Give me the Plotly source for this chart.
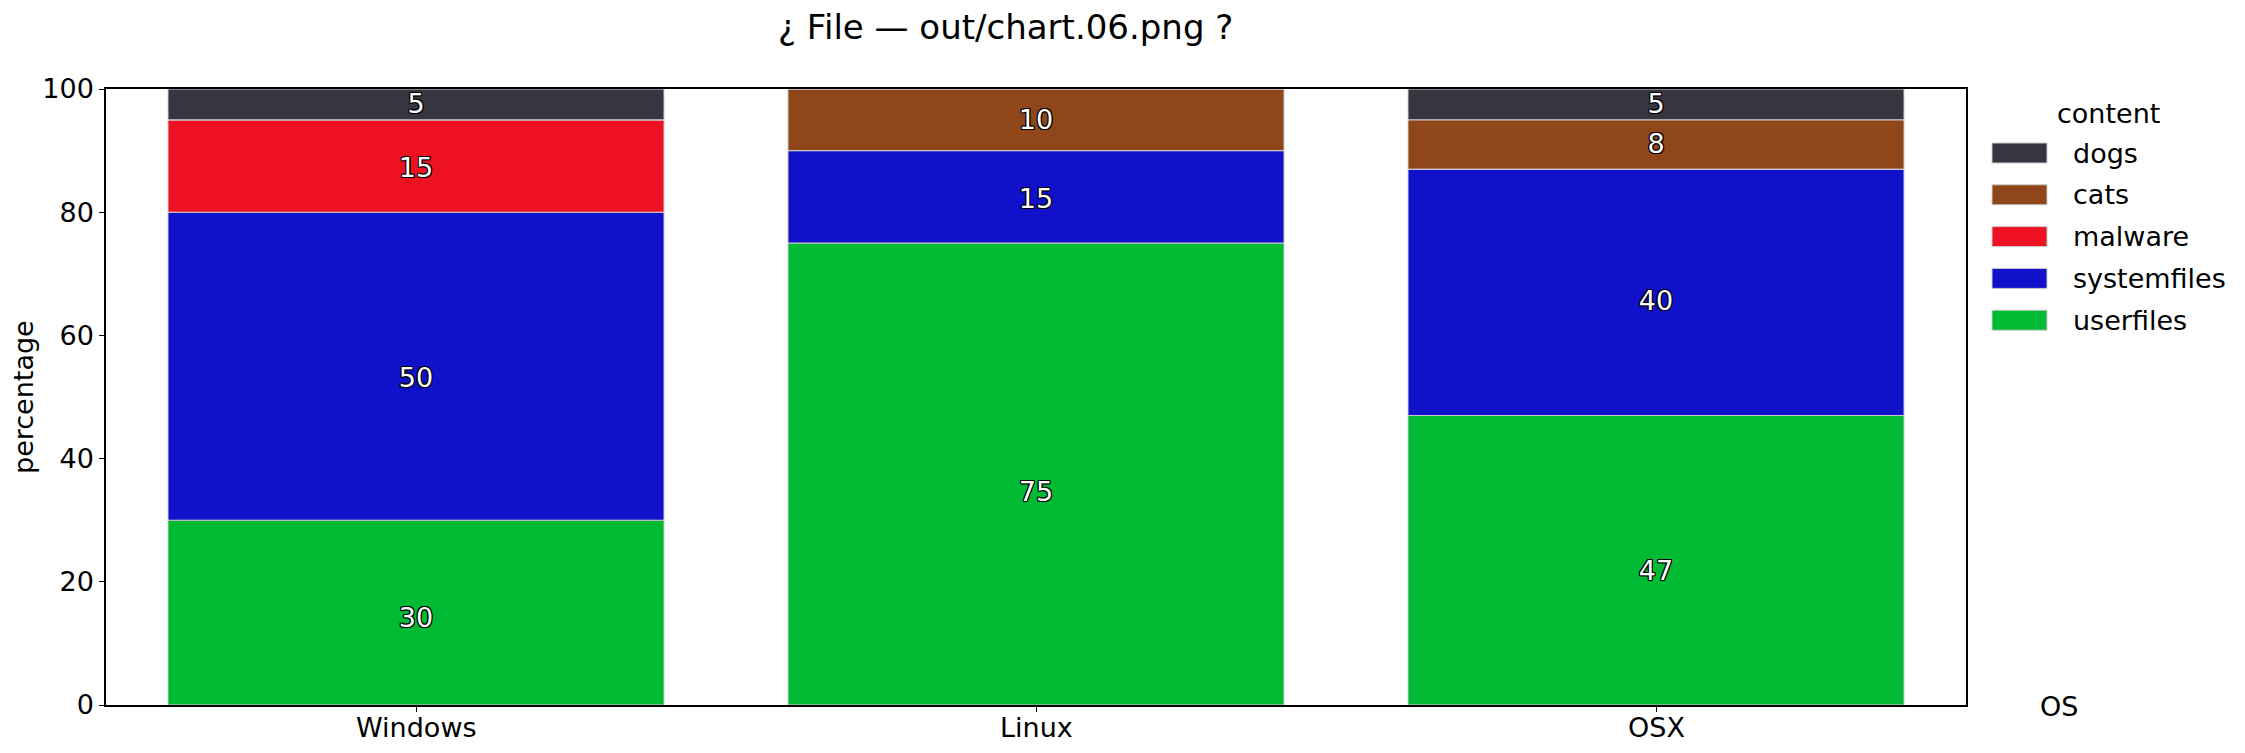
import plotly.graph_objects as go

categories = ["Windows", "Linux", "OSX"]
series_names = ["userfiles", "systemfiles", "malware", "cats", "dogs"]
userfiles = [30, 75, 47]
systemfiles = [50, 15, 40]
malware = [15, 0, 0]
cats = [0, 10, 8]
dogs = [5, 0, 5]
series_values = [userfiles, systemfiles, malware, cats, dogs]
colors = ["#00BA33", "#1111CC", "#EE1122", "#8F4618", "#37353F"]
y_ticks = [0, 20, 40, 60, 80, 100]

FONT = "DejaVu Sans"
W, H = 2245, 753
L, R, T, B = 106, 279, 89, 48
PW, PH = W - L - R, H - T - B

def px(x):
    return (x - L) / PW

def py(y):
    return (H - B - y) / PH

fig = go.Figure()
bases = [0] * len(categories)
label_x, label_y, label_t = [], [], []
for name, vals, col in zip(series_names, series_values, colors):
    fig.add_trace(go.Bar(
        x=categories, y=vals, base=bases[:], name=name,
        marker=dict(color=col, line=dict(color="#CCCCCC", width=1)),
        showlegend=False, hoverinfo="name+y",
    ))
    for i, v in enumerate(vals):
        if v > 0:
            label_x.append(categories[i])
            label_y.append(bases[i] + v * 0.456)
            label_t.append(str(v))
    bases = [b + v for b, v in zip(bases, vals)]

fig.add_trace(go.Scatter(
    x=label_x, y=label_y, text=label_t, mode="text",
    textposition="middle center",
    textfont=dict(family=FONT, size=27, color="white",
                  shadow="-1px -1px 0 #000, 1px -1px 0 #000, -1px 1px 0 #000, 1px 1px 0 #000, 0 1px 0 #000, 0 -1px 0 #000, 1px 0 0 #000, -1px 0 0 #000"),
    showlegend=False, hoverinfo="skip",
))

annotations = [
    dict(text="¿ File — out/chart.06.png ?", x=px(1005), y=py(27), xref="paper", yref="paper",
         xanchor="center", yanchor="middle", showarrow=False,
         font=dict(family=FONT, size=34, color="black")),
    dict(text="percentage", x=px(23), y=0.5, xref="paper", yref="paper", textangle=-90,
         xanchor="center", yanchor="middle", showarrow=False,
         font=dict(family=FONT, size=27, color="black")),
    dict(text="OS", x=px(2059), y=py(706), xref="paper", yref="paper",
         xanchor="center", yanchor="middle", showarrow=False,
         font=dict(family=FONT, size=27, color="black")),
    dict(text="content", x=px(2108), y=py(113), xref="paper", yref="paper",
         xanchor="center", yanchor="middle", showarrow=False,
         font=dict(family=FONT, size=27, color="black")),
]
for c in categories:
    annotations.append(dict(text=c, x=c, y=py(727), xref="x", yref="paper",
                            xanchor="center", yanchor="middle", showarrow=False,
                            font=dict(family=FONT, size=27, color="black")))
shapes = []
legend_order = list(zip(series_names, colors))[::-1]
for k, (name, col) in enumerate(legend_order):
    cy = 153 + k * 41.8
    shapes.append(dict(type="rect", xref="paper", yref="paper",
                       x0=px(1992), x1=px(2047), y0=py(cy - 10), y1=py(cy + 10),
                       fillcolor=col, line=dict(color="#CCCCCC", width=1)))
    annotations.append(dict(text=name, x=px(2071), y=py(cy), xref="paper", yref="paper",
                            xanchor="left", yanchor="middle", showarrow=False,
                            font=dict(family=FONT, size=27, color="black")))

fig.update_layout(
    width=W, height=H,
    margin=dict(l=L, r=R, t=T, b=B, autoexpand=False),
    barmode="overlay", bargap=0.2,
    plot_bgcolor="white", paper_bgcolor="white",
    font=dict(family=FONT, size=27, color="black"),
    annotations=annotations, shapes=shapes,
    xaxis=dict(range=[-0.5, 2.5], showline=True, linecolor="black", linewidth=1.5, mirror=True,
               ticks="outside", ticklen=5, tickcolor="black", showgrid=False,
               showticklabels=False),
    yaxis=dict(range=[0, 100], tickvals=y_ticks, showline=True, linecolor="black", linewidth=1.5,
               mirror=True, ticks="outside", ticklen=5, tickcolor="black", showgrid=False,
               zeroline=False, tickfont=dict(family=FONT, size=27, color="black")),
)

fig.write_html("out.html", config={"displayModeBar": False},
               post_script="document.body.style.margin='0px';document.body.style.overflow='hidden';")
